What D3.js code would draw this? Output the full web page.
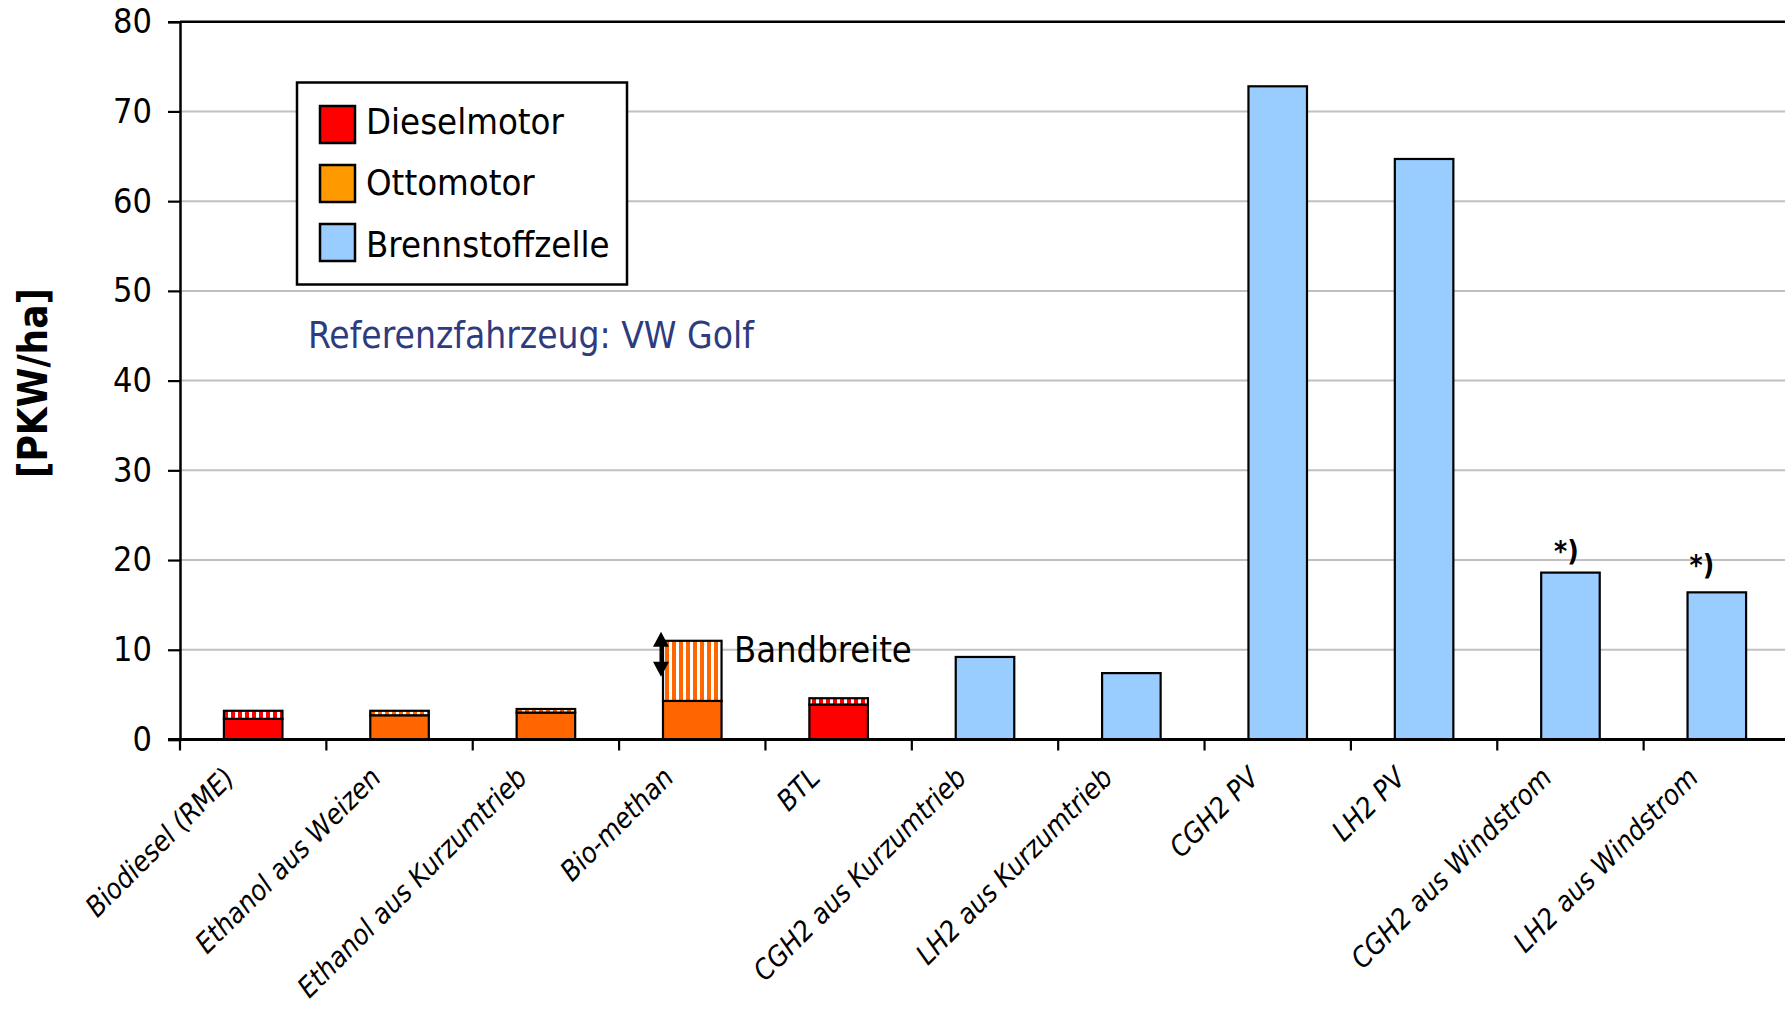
<!DOCTYPE html>
<html>
<head>
<meta charset="utf-8">
<script src="https://cdn.jsdelivr.net/npm/d3@7"></script>
<style>
  html, body { margin: 0; padding: 0; background: #fff; }
  svg { display: block; }
  text { font-family: "DejaVu Sans Condensed", "DejaVu Sans", sans-serif; font-stretch: condensed; fill: #000; }
</style>
</head>
<body>
<svg id="chart" width="1785" height="1009"></svg>
<script>
// Fahrzeuge pro Hektar Anbaufläche, nach Kraftstoffpfad
const categories = [
  "Biodiesel (RME)", "Ethanol aus Weizen", "Ethanol aus Kurzumtrieb", "Bio-methan", "BTL",
  "CGH2 aus Kurzumtrieb", "LH2 aus Kurzumtrieb", "CGH2 PV", "LH2 PV",
  "CGH2 aus Windstrom", "LH2 aus Windstrom"
];
const drivetrain = [
  "Dieselmotor", "Ottomotor", "Ottomotor", "Ottomotor", "Dieselmotor",
  "Brennstoffzelle", "Brennstoffzelle", "Brennstoffzelle", "Brennstoffzelle",
  "Brennstoffzelle", "Brennstoffzelle"
];
// untere Grenze (voller Balken) und obere Grenze der Bandbreite (schraffiert)
const lowerValues = [2.3, 2.7, 3.0, 4.3, 3.9, 9.2, 7.4, 72.8, 64.7, 18.6, 16.4];
const upperValues = [3.2, 3.2, 3.4, 11.0, 4.6, null, null, null, null, null, null];
const footnotes = ["", "", "", "", "", "", "", "", "", "*)", "*)"];
const yTicks = [0, 10, 20, 30, 40, 50, 60, 70, 80];
const legendItems = ["Dieselmotor", "Ottomotor", "Brennstoffzelle"];

const barFill = { "Dieselmotor": "#FF0000", "Ottomotor": "#FF6600", "Brennstoffzelle": "#99CCFF" };
const legendFill = { "Dieselmotor": "#FF0000", "Ottomotor": "#FF9900", "Brennstoffzelle": "#99CCFF" };

const svg = d3.select("#chart");
const plot = { left: 180, right: 1790, top: 21.7, bottom: 739.5 };

const x = d3.scaleBand().domain(categories).range([plot.left, plot.right])
  .paddingInner(0.6).paddingOuter(0.3);
const y = d3.scaleLinear().domain([0, 80]).range([plot.bottom, plot.top]);

// Schraffurmuster (senkrechte Streifen) für die Bandbreite
const defs = svg.append("defs");
["Dieselmotor", "Ottomotor"].forEach(k => {
  const p = defs.append("pattern").attr("id", "stripe-" + k)
    .attr("patternUnits", "userSpaceOnUse").attr("width", 7).attr("height", 10);
  p.append("rect").attr("width", 7).attr("height", 10).attr("fill", "#fff");
  p.append("rect").attr("width", 4).attr("height", 10).attr("fill", barFill[k]);
});

// Gitterlinien
svg.append("g").selectAll("line").data(yTicks.filter(t => t > 0 && t < 80)).join("line")
  .attr("x1", plot.left).attr("x2", plot.right)
  .attr("y1", d => y(d)).attr("y2", d => y(d))
  .attr("stroke", "#c0c0c0").attr("stroke-width", 2);

// Rahmen oben und rechts
svg.append("line").attr("x1", plot.left).attr("x2", plot.right)
  .attr("y1", y(80)).attr("y2", y(80)).attr("stroke", "#000").attr("stroke-width", 2.5);
svg.append("line").attr("x1", plot.right).attr("x2", plot.right)
  .attr("y1", y(80)).attr("y2", y(0)).attr("stroke", "#000").attr("stroke-width", 2.5);

// Balken
const bars = svg.append("g");
categories.forEach((c, i) => {
  const kind = drivetrain[i];
  bars.append("rect")
    .attr("x", x(c)).attr("width", x.bandwidth())
    .attr("y", y(lowerValues[i])).attr("height", y(0) - y(lowerValues[i]))
    .attr("fill", barFill[kind]).attr("stroke", "#000").attr("stroke-width", 2.2);
  if (upperValues[i] != null) {
    bars.append("rect")
      .attr("x", x(c)).attr("width", x.bandwidth())
      .attr("y", y(upperValues[i])).attr("height", y(lowerValues[i]) - y(upperValues[i]))
      .attr("fill", "url(#stripe-" + kind + ")").attr("stroke", "#000").attr("stroke-width", 2.2);
  }
});

// Fußnotenzeichen über den Windstrom-Balken
const footNudge = { 9: [-4, -12], 10: [-15, -17] };
categories.forEach((c, i) => {
  if (!footnotes[i]) return;
  const n = footNudge[i] || [0, -12];
  svg.append("text")
    .attr("x", x(c) + x.bandwidth() / 2 + n[0])
    .attr("y", y(lowerValues[i]) + n[1])
    .attr("text-anchor", "middle")
    .attr("font-size", 28).attr("font-weight", "bold")
    .text(footnotes[i]);
});

// Y-Achse
const yAxis = svg.append("g").attr("transform", `translate(${plot.left},0)`)
  .call(d3.axisLeft(y).tickValues(yTicks).tickSize(12).tickPadding(16).tickFormat(d3.format("d")));
yAxis.select(".domain").attr("stroke", "#000").attr("stroke-width", 2.5);
yAxis.selectAll(".tick line").attr("stroke", "#000").attr("stroke-width", 2.2);
yAxis.selectAll(".tick text")
  .style("font-family", '"DejaVu Sans Condensed", "DejaVu Sans", sans-serif')
  .attr("font-size", 34).attr("fill", "#000");

// X-Achse mit Kategorie-Trennstrichen
svg.append("line").attr("x1", plot.left - 12).attr("x2", plot.right)
  .attr("y1", y(0)).attr("y2", y(0)).attr("stroke", "#000").attr("stroke-width", 2.8);
const step = x.step();
svg.append("g").selectAll("line").data(d3.range(categories.length + 1)).join("line")
  .attr("x1", d => plot.left + d * step).attr("x2", d => plot.left + d * step)
  .attr("y1", y(0)).attr("y2", y(0) + 11)
  .attr("stroke", "#000").attr("stroke-width", 2.2);

svg.append("g").selectAll("text").data(categories).join("text")
  .attr("transform", d => `translate(${x(d) + x.bandwidth() / 2 - 17},${y(0) + 40}) rotate(-45)`)
  .attr("text-anchor", "end")
  .attr("font-size", 28).attr("font-style", "italic")
  .text(d => d);

// Y-Achsentitel
svg.append("text")
  .attr("transform", "translate(47,383) rotate(-90)")
  .attr("text-anchor", "middle")
  .attr("font-size", 40).attr("font-weight", "bold")
  .text("[PKW/ha]");

// Legende
const lg = svg.append("g");
lg.append("rect").attr("x", 297).attr("y", 82.5).attr("width", 330).attr("height", 202)
  .attr("fill", "#fff").attr("stroke", "#000").attr("stroke-width", 2.5);
legendItems.forEach((k, i) => {
  lg.append("rect").attr("x", 320).attr("y", 106 + i * 59).attr("width", 35).attr("height", 37)
    .attr("fill", legendFill[k]).attr("stroke", "#000").attr("stroke-width", 2.5);
  lg.append("text").attr("x", 366).attr("y", 133.5 + i * 61.7)
    .attr("font-size", 36.2).text(k);
});

// Hinweis Referenzfahrzeug
svg.append("text").attr("x", 308).attr("y", 348)
  .attr("font-size", 36.8).style("fill", "#2E3B80")
  .text("Referenzfahrzeug: VW Golf");

// Doppelpfeil und Beschriftung der Bandbreite (Bio-methan)
const bx = x("Bio-methan");
const arrowTop = y(12.0), arrowBottom = y(7.0);
const ar = svg.append("g").attr("fill", "#000").attr("stroke", "none");
ar.append("line").attr("x1", bx - 2).attr("x2", bx - 2)
  .attr("y1", arrowTop + 10).attr("y2", arrowBottom - 10)
  .attr("stroke", "#000").attr("stroke-width", 3);
ar.append("path").attr("d", `M${bx - 2},${arrowTop} l-8,15 l16,0 Z`);
ar.append("path").attr("d", `M${bx - 2},${arrowBottom} l-8,-15 l16,0 Z`);
svg.append("text").attr("x", 734).attr("y", 662)
  .attr("font-size", 36).text("Bandbreite");
</script>
</body>
</html>
